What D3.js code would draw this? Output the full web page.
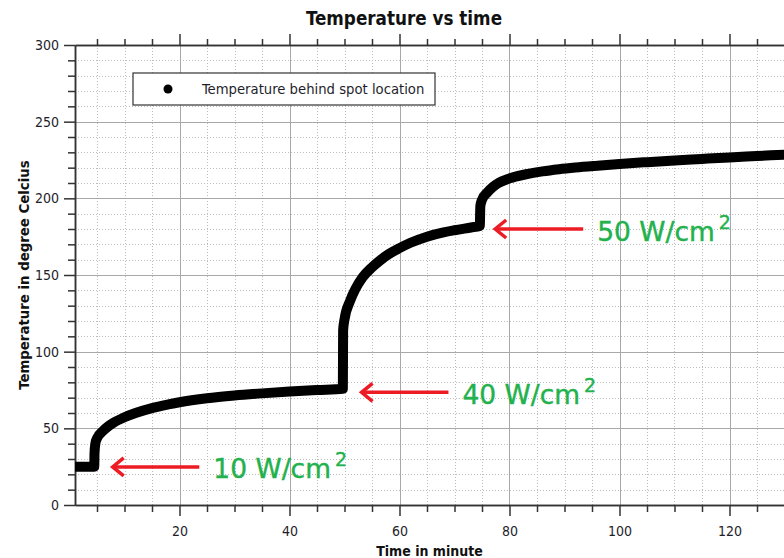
<!DOCTYPE html>
<html>
<head>
<meta charset="utf-8">
<script src="https://cdn.jsdelivr.net/npm/d3@7"></script>
<style>
  body { margin: 0; background: #fff; }
  svg { display: block; }
  text { font-family: "DejaVu Sans Condensed", "DejaVu Sans", sans-serif; font-stretch: condensed; }
</style>
</head>
<body>
<svg id="chart" width="784" height="558"></svg>
<script>
// time in minute / temperature in degree Celcius
var time = [1, 2, 3, 4, 4.5, 4.55, 4.7, 5, 6, 7, 8, 10, 12, 15, 18, 20, 25, 30, 35, 40, 45, 49.7,
            49.75, 50, 51, 52, 53.3, 55, 56.4, 58, 60, 62, 65, 68, 70, 73, 74.6,
            74.7, 75, 76, 77, 78, 80, 83, 86, 89, 92, 96, 100, 105, 110, 115, 120, 125, 130];
var temp = [25, 25, 25, 25, 25, 34, 40, 43.5, 48, 51.2, 53.6, 57.2, 60, 63.2, 65.6, 67, 69.6, 71.4, 72.8, 74, 75, 75.8,
            114, 121, 133, 141, 148.5, 155, 159.3, 163.5, 167.5, 171, 175, 177.8, 179.2, 181, 182,
            195, 199, 204, 207.5, 210, 213, 215.7, 217.6, 219, 220.1, 221.3, 222.4, 223.6, 224.7, 225.7, 226.7, 227.6, 228.5];

var xMajor = [20, 40, 60, 80, 100, 120];
var yMajor = [0, 50, 100, 150, 200, 250, 300];

// annotations: power level, arrow tip (time, temp), arrow tail time
var notes = ["10 W/cm", "40 W/cm", "50 W/cm"];
var noteTip = [[7.85, 24.8], [53.1, 73.5], [77.4, 180]];
var noteTail = [23.6, 68.9, 93.4];

var seriesName = "Temperature behind spot location";

var svg = d3.select("#chart"),
    pLeft = 75, pTop = 45, pRight = 784.5, pBottom = 505;

var x = d3.scaleLinear().domain([1, 130]).range([pLeft, pRight]);
var y = d3.scaleLinear().domain([0, 300]).range([pBottom, pTop]);

var xMinor = d3.range(5, 131, 5).filter(function(d) { return d % 20 != 0; });
var yMinor = d3.range(0, 301, 10).filter(function(d) { return d % 50 != 0; });

svg.append("defs").append("clipPath").attr("id", "plot")
  .append("rect").attr("x", pLeft).attr("y", pTop).attr("width", pRight - pLeft).attr("height", pBottom - pTop);

// grid
var grid = svg.append("g");
grid.selectAll(".vmin").data(xMinor).enter().append("line")
  .attr("x1", function(d) { return Math.round(x(d)) + 0.5; })
  .attr("x2", function(d) { return Math.round(x(d)) + 0.5; })
  .attr("y1", pTop).attr("y2", pBottom)
  .attr("stroke", "#bcbcbc").attr("stroke-dasharray", "1,2");
grid.selectAll(".hmin").data(yMinor).enter().append("line")
  .attr("y1", function(d) { return Math.round(y(d)) + 0.5; })
  .attr("y2", function(d) { return Math.round(y(d)) + 0.5; })
  .attr("x1", pLeft).attr("x2", pRight)
  .attr("stroke", "#bcbcbc").attr("stroke-dasharray", "1,2");
grid.selectAll(".vmaj").data(xMajor).enter().append("line")
  .attr("x1", function(d) { return Math.round(x(d)) + 0.5; })
  .attr("x2", function(d) { return Math.round(x(d)) + 0.5; })
  .attr("y1", pTop).attr("y2", pBottom)
  .attr("stroke", "#a8a8a8");
grid.selectAll(".hmaj").data(yMajor.slice(1, -1)).enter().append("line")
  .attr("y1", function(d) { return Math.round(y(d)) + 0.5; })
  .attr("y2", function(d) { return Math.round(y(d)) + 0.5; })
  .attr("x1", pLeft).attr("x2", pRight)
  .attr("stroke", "#a8a8a8");

// axes
function styleAxis(g) {
  g.selectAll("path").attr("stroke", "#333").attr("stroke-width", 1.5);
  g.selectAll("line").attr("stroke", "#333").attr("stroke-width", 1.5);
  g.selectAll("text").attr("fill", "#1e1e2a").style("font-size", "14px");
}

svg.append("g").attr("transform", "translate(0," + pBottom + ")")
  .call(d3.axisBottom(x).tickValues(xMinor).tickSize(7).tickFormat("").tickSizeOuter(0)).call(styleAxis);
svg.append("g").attr("transform", "translate(0," + pBottom + ")")
  .call(d3.axisBottom(x).tickValues(xMajor).tickSize(11).tickPadding(10).tickSizeOuter(0)).call(styleAxis);

svg.append("g").attr("transform", "translate(0," + pTop + ")")
  .call(d3.axisTop(x).tickValues(xMinor).tickSize(6).tickFormat("").tickSizeOuter(0)).call(styleAxis);
svg.append("g").attr("transform", "translate(0," + pTop + ")")
  .call(d3.axisTop(x).tickValues(xMajor).tickSize(11).tickFormat("").tickSizeOuter(0)).call(styleAxis);

svg.append("g").attr("transform", "translate(" + pLeft + ",0)")
  .call(d3.axisLeft(y).tickValues(yMinor).tickSize(7).tickFormat("").tickSizeOuter(0)).call(styleAxis);
svg.append("g").attr("transform", "translate(" + pLeft + ",0)")
  .call(d3.axisLeft(y).tickValues(yMajor).tickSize(11).tickPadding(5).tickSizeOuter(0)).call(styleAxis);

// series
var pts = time.map(function(t, i) { return [t, temp[i]]; });
var line = d3.line().curve(d3.curveMonotoneX)
  .x(function(d) { return x(d[0]); }).y(function(d) { return y(d[1]); });
svg.append("path").datum(pts)
  .attr("clip-path", "url(#plot)")
  .attr("d", line)
  .attr("fill", "none").attr("stroke", "#000")
  .attr("stroke-width", 10).attr("stroke-linejoin", "round").attr("stroke-linecap", "butt");

// legend
var leg = svg.append("g");
leg.append("rect").attr("x", 133).attr("y", 73).attr("width", 302).attr("height", 32)
  .attr("fill", "#fff").attr("stroke", "#333").attr("stroke-width", 1.2);
leg.append("circle").attr("cx", 168).attr("cy", 89).attr("r", 4.5).attr("fill", "#000");
leg.append("text").attr("x", 202).attr("y", 94).attr("fill", "#1e1e2a")
  .style("font-size", "14.7px").text(seriesName);

// arrows and labels
var red = "#ed1c24", green = "#22b14c";
notes.forEach(function(n, i) {
  var tx = x(noteTip[i][0]), ty = y(noteTip[i][1]), ex = x(noteTail[i]);
  var g = svg.append("g");
  g.append("line").attr("x1", tx + 1).attr("y1", ty).attr("x2", ex).attr("y2", ty)
    .attr("stroke", red).attr("stroke-width", 3.5);
  g.append("path").attr("d", "M" + (tx + 11) + "," + (ty - 9) + "L" + tx + "," + ty + "L" + (tx + 11) + "," + (ty + 9))
    .attr("fill", "none").attr("stroke", red).attr("stroke-width", 3.5).attr("stroke-linejoin", "miter");
  var t = g.append("text").attr("x", ex + 14).attr("y", ty + 11.5).attr("fill", green)
    .attr("stroke", green).attr("stroke-width", 0.4)
    .style("font-family", "'DejaVu Sans'").style("font-stretch", "normal").style("font-size", "26.5px");
  t.append("tspan").text(n);
  t.append("tspan").attr("dx", 4).attr("dy", -12).style("font-size", "19px").text("2");
});

// titles
svg.append("text").attr("x", 404).attr("y", 25).attr("text-anchor", "middle")
  .attr("fill", "#111").style("font-size", "18.7px").style("font-weight", "bold").text("Temperature vs time");
svg.append("text").attr("x", 429.5).attr("y", 556).attr("text-anchor", "middle")
  .attr("fill", "#111").style("font-size", "14px").style("font-weight", "bold").text("Time in minute");
svg.append("text").attr("transform", "translate(28.5,275) rotate(-90)").attr("text-anchor", "middle")
  .attr("fill", "#111").style("font-size", "14.8px").style("font-weight", "bold").text("Temperature in degree Celcius");
</script>
</body>
</html>
